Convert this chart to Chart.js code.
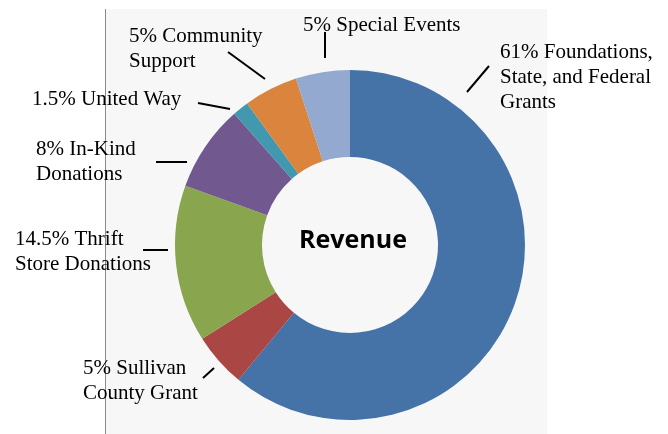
<!DOCTYPE html>
<html>
<head>
<meta charset="utf-8">
<script src="https://cdn.jsdelivr.net/npm/chart.js@4/dist/chart.umd.min.js"></script>
<style>
  html, body { margin: 0; padding: 0; background: #fff; }
  #wrap { width: 668px; height: 434px; position: relative; }
</style>
</head>
<body>
<div id="wrap"><canvas id="myChart" width="668" height="434"></canvas></div>
<script>
// revenue shares, clockwise from 12 o'clock
const categories = [
  "Foundations, State, and Federal Grants",
  "Sullivan County Grant",
  "Thrift Store Donations",
  "In-Kind Donations",
  "United Way",
  "Community Support",
  "Special Events",
];
const shares = [61, 5, 14.5, 8, 1.5, 5, 5];
const labelLines = [
  ["Foundations,", "State, and Federal", "Grants"],
  ["Sullivan", "County Grant"],
  ["Thrift", "Store Donations"],
  ["In-Kind", "Donations"],
  ["United Way"],
  ["Community", "Support"],
  ["Special Events"],
];
const colors = ["#4572A7", "#AA4643", "#89A54E", "#71588F", "#4198AF", "#DB843D", "#93A9CF"];

// where each callout text sits (left x, first baseline) and its leader line
const callouts = [
  { x: 500, y: 58, line: [467, 92, 489, 66] },
  { x: 83, y: 374, line: [203, 378, 214, 368] },
  { x: 15, y: 245, line: [143, 250, 168, 250] },
  { x: 36, y: 155, line: [156, 162, 187, 162] },
  { x: 32, y: 105, line: [198, 103, 230, 109] },
  { x: 129, y: 42, line: [228, 52, 265, 79] },
  { x: 303, y: 31, line: [325, 32, 325, 58] },
];

const ctx = document.getElementById("myChart").getContext("2d");

const backdrop = {
  id: "backdrop",
  beforeDraw(chart) {
    const c = chart.ctx;
    c.save();
    c.fillStyle = "#F7F7F7";
    c.fillRect(105, 9, 442, 425);
    c.strokeStyle = "#8a8a8a";
    c.lineWidth = 1;
    c.beginPath();
    c.moveTo(105.5, 9);
    c.lineTo(105.5, 434);
    c.stroke();
    c.restore();
  },
};

const callout = {
  id: "callout",
  afterDraw(chart) {
    const c = chart.ctx;
    const meta = chart.getDatasetMeta(0);
    const arc = meta.data[0];
    c.save();
    // center title
    c.fillStyle = "#000";
    c.font = "bold 25px 'Open Sans'";
    c.textAlign = "center";
    c.textBaseline = "middle";
    c.fillText("Revenue", arc.x + 3, arc.y - 4);

    c.font = "21px 'Liberation Serif'";
    c.textAlign = "left";
    c.textBaseline = "alphabetic";
    c.strokeStyle = "#000";
    c.lineWidth = 2;
    shares.forEach((v, i) => {
      const p = callouts[i];
      const lines = labelLines[i].slice();
      lines[0] = v + "% " + lines[0];
      lines.forEach((t, j) => c.fillText(t, p.x, p.y + j * 25));
      const [x1, y1, x2, y2] = p.line;
      c.beginPath();
      c.moveTo(x1, y1);
      c.lineTo(x2, y2);
      c.stroke();
    });
    c.restore();
  },
};

new Chart(ctx, {
  type: "doughnut",
  data: {
    labels: categories,
    datasets: [
      {
        data: shares,
        backgroundColor: colors,
        borderWidth: 0,
        hoverOffset: 0,
      },
    ],
  },
  options: {
    responsive: false,
    animation: false,
    radius: 175,
    cutout: 88,
    layout: { padding: { left: 175, right: 143, top: 70, bottom: 14 } },
    plugins: {
      legend: { display: false },
      tooltip: { enabled: false },
    },
  },
  plugins: [backdrop, callout],
});
</script>
</body>
</html>
